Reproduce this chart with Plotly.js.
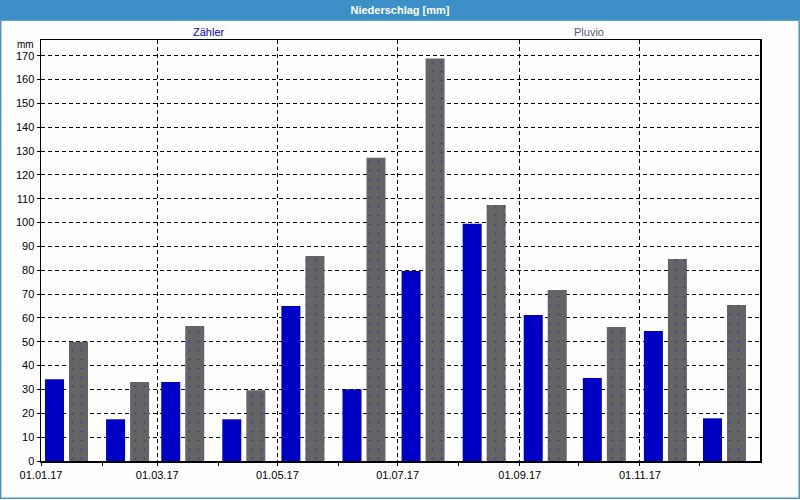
<!DOCTYPE html>
<html>
<head>
<meta charset="utf-8">
<script src="https://cdn.plot.ly/plotly-3.0.1.min.js"></script>
<style>html,body{margin:0;padding:0;background:#fdfefd;}#chart{width:800px;height:500px;}</style>
</head>
<body>
<div id="chart"></div>
<script>
// ---- data ----
const months = ['2017-01-01','2017-02-01','2017-03-01','2017-04-01','2017-05-01','2017-06-01',
                '2017-07-01','2017-08-01','2017-09-01','2017-10-01','2017-11-01','2017-12-01'];
const zaehler = [34.3, 17.5, 33.1, 17.5, 65.0, 30.1, 79.7, 99.5, 61.2, 34.8, 54.5, 17.9];
const pluvio  = [50.0, 33.1, 56.6, 29.7, 86.0, 127.2, 168.8, 107.4, 71.7, 56.2, 84.7, 65.4];
const seriesNames = ['Zähler', 'Pluvio'];
const chartTitle = 'Niederschlag [mm]';
const unitLabel = 'mm';

// ---- layout helpers ----
const W = 800, H = 500;
const M = {l: 41, r: 40, t: 40, b: 39};
const PW = W - M.l - M.r, PH = H - M.t - M.b;
const px2x = px => (px - M.l) / PW;
const px2y = py => (H - M.b - py) / PH;
const DAY = 86400000;
const pxPerDay = PW / 365;

const font = 'Liberation Sans, Arial, sans-serif';
const blue = '#0000c4';
const gray = '#656565';

const traces = [
  {
    type: 'bar', name: seriesNames[0], x: months, y: zaehler,
    offset: (4 / pxPerDay) * DAY, width: (19 / pxPerDay) * DAY,
    marker: {color: blue, line: {width: 0}},
    showlegend: false, hoverinfo: 'x+y'
  },
  {
    type: 'bar', name: seriesNames[1], x: months, y: pluvio,
    offset: (28 / pxPerDay) * DAY, width: (19 / pxPerDay) * DAY,
    marker: {color: gray, line: {width: 0},
      pattern: {shape: '.', fgcolor: '#3a3a9a', bgcolor: gray, size: 9, solidity: 0.04, fillmode: 'replace'}},
    showlegend: false, hoverinfo: 'x+y'
  }
];

const layout = {
  width: W, height: H,
  margin: M,
  paper_bgcolor: '#fdfefd', plot_bgcolor: '#fdfefd',
  font: {family: font, size: 11, color: '#000'},
  barmode: 'overlay',
  title: {
    text: '<b>' + chartTitle + '</b>',
    x: 0.5, xref: 'container', xanchor: 'center',
    y: 1 - 10.5 / H, yref: 'container', yanchor: 'middle',
    font: {family: font, size: 11, color: '#ffffff'}
  },
  xaxis: {
    type: 'date',
    range: ['2017-01-01', '2017-12-31 23:00'],
    tick0: '2017-01-01', dtick: 'M2', tickformat: '%d.%m.%y',
    ticks: 'outside', ticklen: 3, tickcolor: '#000',
    showgrid: true, gridcolor: '#000', gridwidth: 1, griddash: '4px,3px',
    minor: {dtick: 'M1', tick0: '2017-01-01', ticks: 'outside', ticklen: 3, tickcolor: '#000', showgrid: false},
    showline: true, linecolor: '#000', linewidth: 1.5, mirror: true,
    zeroline: false, fixedrange: true,
    tickfont: {family: font, size: 11, color: '#000'}
  },
  yaxis: {
    range: [0, 176.6], dtick: 10, tick0: 0,
    ticks: 'outside', ticklen: 3, tickcolor: '#000',
    showgrid: true, gridcolor: '#000', gridwidth: 1, griddash: '4px,3px',
    showline: true, linecolor: '#000', linewidth: 1.5, mirror: true,
    zeroline: false, fixedrange: true,
    tickfont: {family: font, size: 11, color: '#000'}
  },
  shapes: [
    {type: 'rect', xref: 'paper', yref: 'paper', layer: 'below',
     x0: px2x(0), x1: px2x(W), y0: px2y(20.5), y1: px2y(0),
     fillcolor: '#3d8fc7', line: {width: 0}},
    {type: 'rect', xref: 'paper', yref: 'paper', layer: 'below',
     x0: px2x(0.7), x1: px2x(799.2), y0: px2y(498.2), y1: px2y(20),
     fillcolor: 'rgba(0,0,0,0)', line: {color: '#4b93c6', width: 1.5}}
  ],
  annotations: [
    {text: seriesNames[0], xref: 'paper', yref: 'paper', x: px2x(209), y: px2y(32),
     xanchor: 'center', yanchor: 'middle', showarrow: false, font: {family: font, size: 11, color: blue}},
    {text: seriesNames[1], xref: 'paper', yref: 'paper', x: px2x(589), y: px2y(32),
     xanchor: 'center', yanchor: 'middle', showarrow: false, font: {family: font, size: 11, color: '#55557a'}},
    {text: unitLabel, xref: 'paper', yref: 'paper', x: px2x(36), y: px2y(44),
     xanchor: 'right', yanchor: 'middle', showarrow: false, font: {family: font, size: 10, color: '#000'}}
  ]
};

Plotly.newPlot('chart', traces, layout, {displayModeBar: false, staticPlot: true});
</script>
</body>
</html>
